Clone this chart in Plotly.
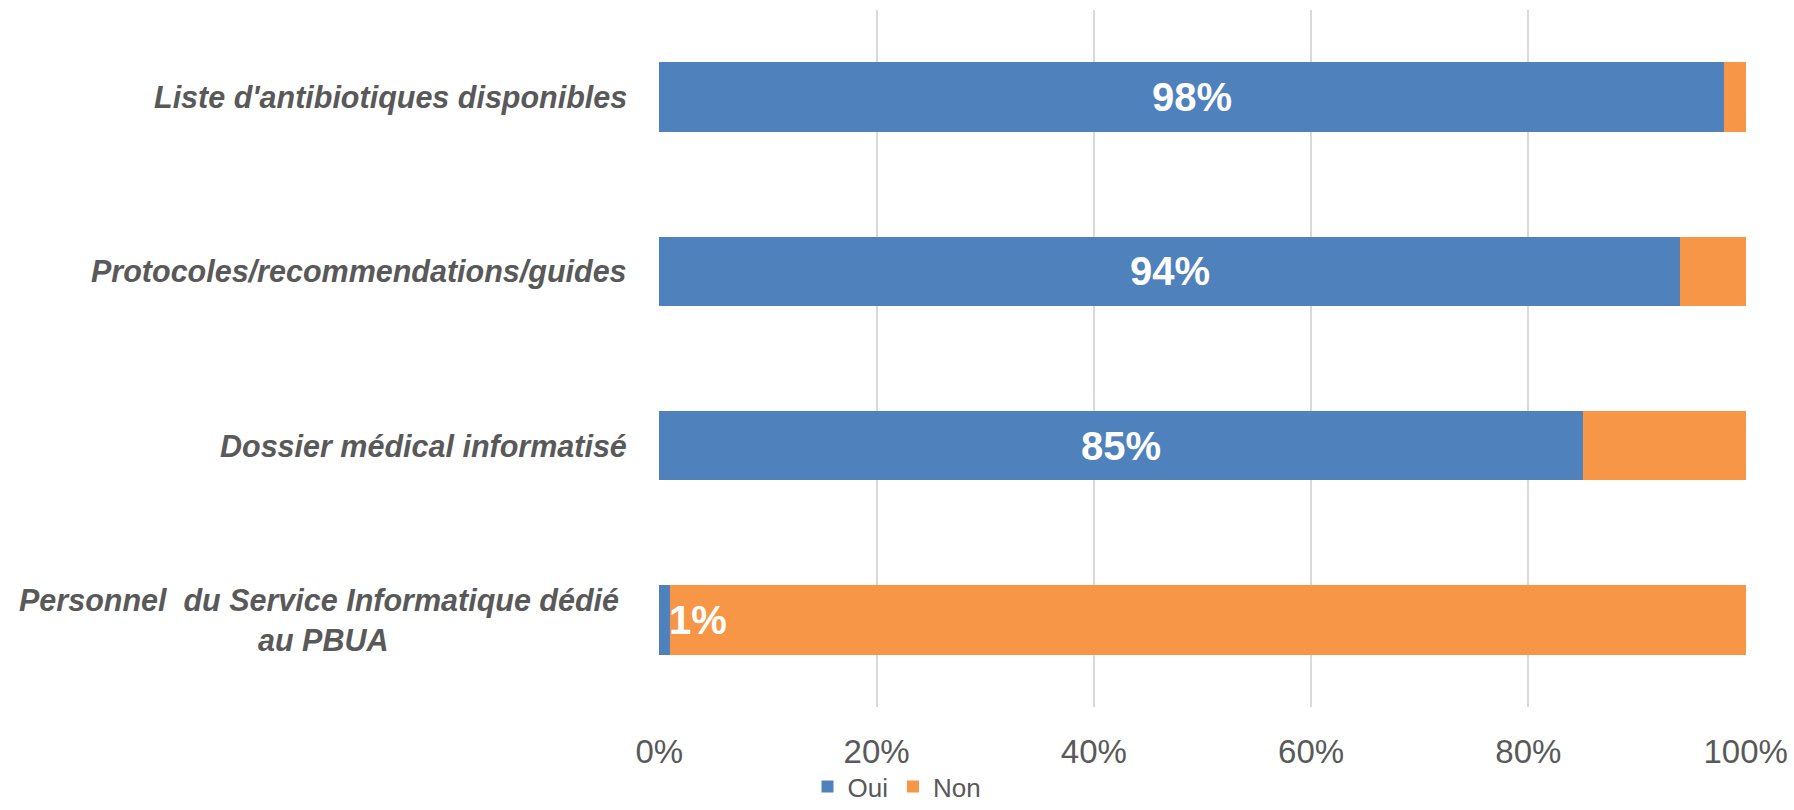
import plotly.graph_objects as go

categories = [
    "Liste d'antibiotiques disponibles",
    "Protocoles/recommendations/guides",
    "Dossier médical informatisé",
    "Personnel\u00a0\u00a0du Service Informatique dédié\u00a0<br>au PBUA",
]
oui = [98, 94, 85, 1]
non = [2, 6, 15, 99]
tick_vals = [0, 20, 40, 60, 80, 100]
tick_text = ["0%", "20%", "40%", "60%", "80%", "100%"]

BLUE = "#4F81BD"
ORANGE = "#F79646"
GREY = "#595959"
FONT = "Liberation Sans, Arial, sans-serif"

ycat = list(range(len(categories)))

fig = go.Figure()
fig.add_trace(go.Bar(y=ycat, x=oui, name="Oui", orientation="h",
                     marker=dict(color=BLUE, line=dict(width=0)), hoverinfo="x+name"))
fig.add_trace(go.Bar(y=ycat, x=non, name="Non", orientation="h",
                     marker=dict(color=ORANGE, line=dict(width=0)), hoverinfo="x+name"))

annotations = []
for i, (cat, v) in enumerate(zip(categories, oui)):
    annotations.append(dict(
        x=0, xref="paper", y=i, yref="y", xanchor="right", yanchor="middle",
        xshift=-30, align="center", showarrow=False, text=cat,
        font=dict(family=FONT, size=30.5, color=GREY, weight="bold", style="italic"),
    ))
    if v >= 10:
        annotations.append(dict(
            x=v / 2, xref="x", y=i, yref="y", xanchor="center", yanchor="middle",
            showarrow=False, text=f"{v}%",
            font=dict(family=FONT, size=40, color="white", weight="bold"),
        ))
    else:
        annotations.append(dict(
            x=0, xref="x", y=i, yref="y", xanchor="left", yanchor="middle",
            xshift=8, showarrow=False, text=f"{v}%",
            font=dict(family=FONT, size=40, color="white", weight="bold"),
        ))

fig.update_layout(
    barmode="stack",
    bargap=0.6,
    width=1794, height=810,
    margin=dict(l=659, r=48, t=10, b=103, autoexpand=False),
    plot_bgcolor="white", paper_bgcolor="white",
    showlegend=True,
    legend=dict(orientation="h", xref="container", yref="container",
                x=0.5, xanchor="center", y=0.0, yanchor="bottom",
                traceorder="normal", bgcolor="rgba(0,0,0,0)",
                font=dict(family=FONT, size=26, color=GREY)),
    annotations=annotations,
    xaxis=dict(range=[-0.03, 100.03], tickvals=tick_vals, ticktext=tick_text,
               showgrid=True, gridcolor="#D9D9D9", gridwidth=2,
               zeroline=False, showline=False, ticks="",
               tickfont=dict(family=FONT, size=33, color=GREY),
               ticklabelstandoff=22, fixedrange=True, automargin=False),
    yaxis=dict(tickvals=ycat, showticklabels=False,
               range=[len(categories) - 0.5, -0.5], automargin=False,
               showgrid=False, zeroline=False, showline=False, ticks=""),
)

fig.write_html("out.html", config={"displayModeBar": False},
               post_script="document.body.style.margin='0';document.body.style.overflow='hidden';")
